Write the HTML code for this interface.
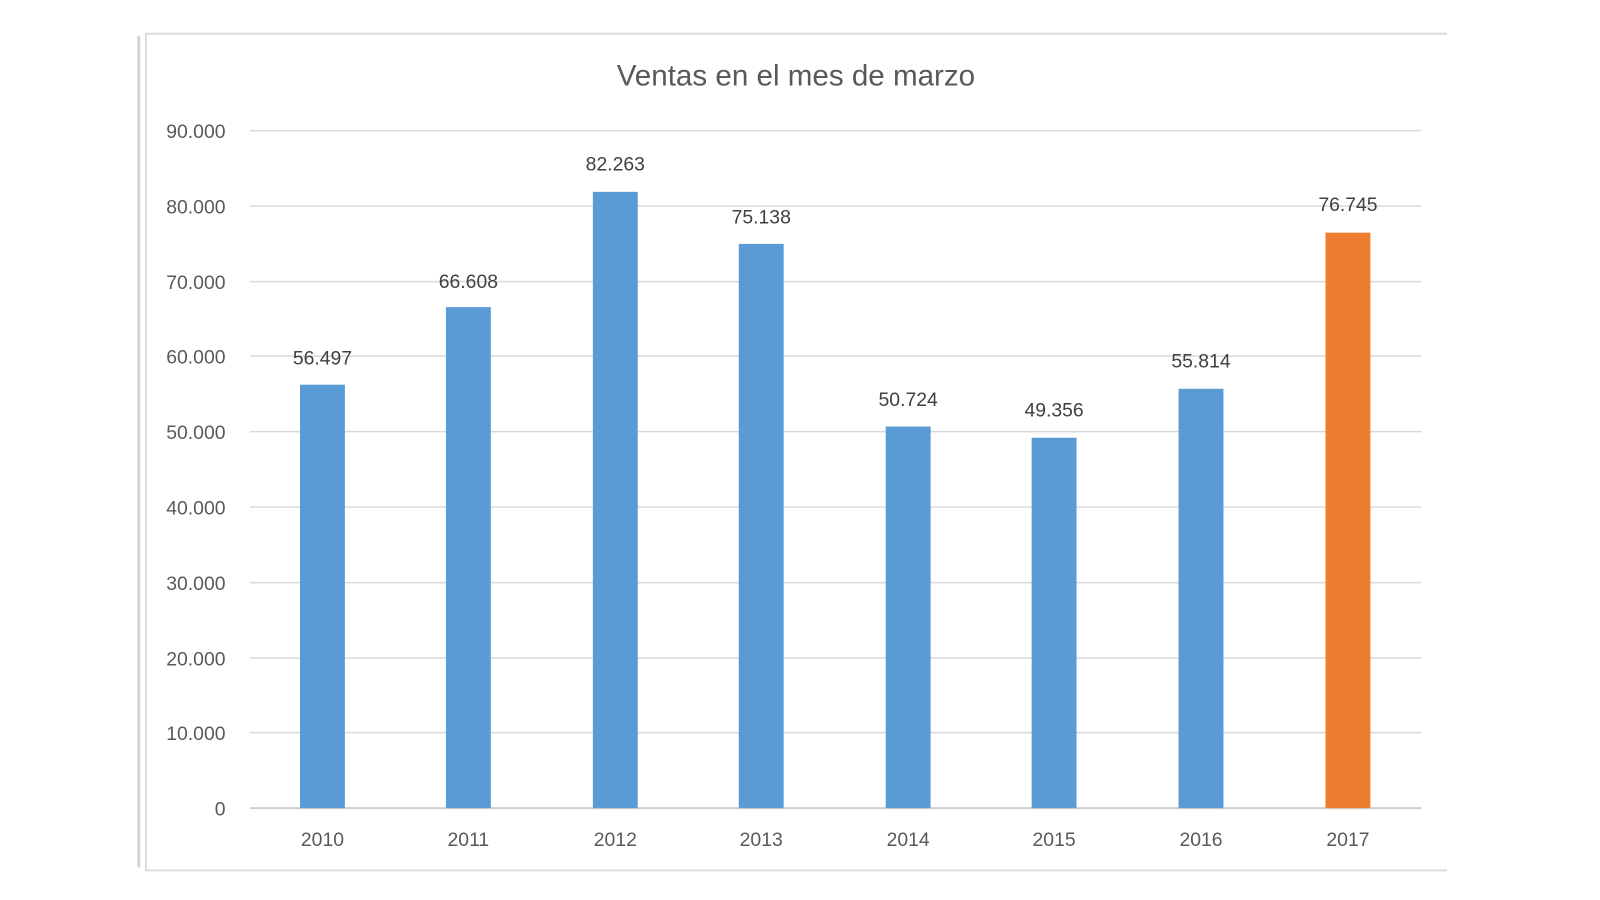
<!DOCTYPE html>
<html><head><meta charset="utf-8"><style>
body{margin:0;background:#fff;}
text{font-family:"Liberation Sans",sans-serif;}
</style></head><body>
<svg width="1600" height="900" viewBox="0 0 1568 882" xmlns="http://www.w3.org/2000/svg" style="display:block">
<rect width="1568" height="882" fill="#fff"/>
<line x1="136" y1="35" x2="136" y2="850" stroke="#d4d4d4" stroke-width="3"/>
<path d="M1418 33 H143 V853 H1418" fill="#fff" stroke="#dcdcdc" stroke-width="2"/>
<text x="780" y="84" font-size="29" fill="#595959" text-anchor="middle">Ventas en el mes de marzo</text>
<g stroke="#d9d9d9" stroke-width="1.5">
<line x1="245" y1="128" x2="1393" y2="128"/>
<line x1="245" y1="202" x2="1393" y2="202"/>
<line x1="245" y1="276" x2="1393" y2="276"/>
<line x1="245" y1="349" x2="1393" y2="349"/>
<line x1="245" y1="423" x2="1393" y2="423"/>
<line x1="245" y1="497" x2="1393" y2="497"/>
<line x1="245" y1="571" x2="1393" y2="571"/>
<line x1="245" y1="645" x2="1393" y2="645"/>
<line x1="245" y1="718" x2="1393" y2="718"/>
<line x1="245" y1="792" x2="1393" y2="792" stroke="#cfcfcf" stroke-width="2"/>
</g>
<g font-size="19" fill="#595959" text-anchor="end">
<text x="221" y="135">90.000</text>
<text x="221" y="209">80.000</text>
<text x="221" y="283">70.000</text>
<text x="221" y="356">60.000</text>
<text x="221" y="430">50.000</text>
<text x="221" y="504">40.000</text>
<text x="221" y="578">30.000</text>
<text x="221" y="652">20.000</text>
<text x="221" y="725">10.000</text>
<text x="221" y="799">0</text>
</g>
<g fill="#5b9bd5">
<rect x="294" y="377" width="44" height="415"/>
<rect x="437" y="301" width="44" height="491"/>
<rect x="581" y="188" width="44" height="604"/>
<rect x="724" y="239" width="44" height="553"/>
<rect x="868" y="418" width="44" height="374"/>
<rect x="1011" y="429" width="44" height="363"/>
<rect x="1155" y="381" width="44" height="411"/>
</g>
<rect x="1299" y="228" width="44" height="564" fill="#ed7d31"/>
<g font-size="19" fill="#404040" text-anchor="middle">
<text x="316" y="357">56.497</text>
<text x="459" y="282">66.608</text>
<text x="603" y="167">82.263</text>
<text x="746" y="219">75.138</text>
<text x="890" y="398">50.724</text>
<text x="1033" y="408">49.356</text>
<text x="1177" y="360">55.814</text>
<text x="1321" y="207">76.745</text>
</g>
<g font-size="19" fill="#595959" text-anchor="middle">
<text x="316" y="829">2010</text>
<text x="459" y="829">2011</text>
<text x="603" y="829">2012</text>
<text x="746" y="829">2013</text>
<text x="890" y="829">2014</text>
<text x="1033" y="829">2015</text>
<text x="1177" y="829">2016</text>
<text x="1321" y="829">2017</text>
</g>
</svg>
</body></html>
